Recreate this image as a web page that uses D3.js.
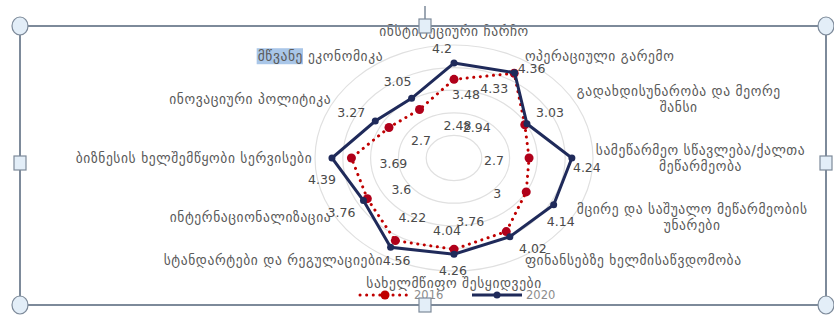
<!DOCTYPE html>
<html>
<head>
<meta charset="utf-8">
<script src="https://cdn.jsdelivr.net/npm/d3@7"></script>
<style>
  body { margin: 0; background: #fff; }
  text { font-family: "DejaVu Sans", sans-serif; }
</style>
</head>
<body>
<div id="chart"></div>
<script>
// categories, clockwise from the top
var categories = [
  ['ინსტიტუციური ჩარჩო'],
  ['ოპერაციული გარემო'],
  ['გადახდისუნარობა და მეორე', 'შანსი'],
  ['სამეწარმეო სწავლება/ქალთა', 'მეწარმეობა'],
  ['მცირე და საშუალო მეწარმეობის', 'უნარები'],
  ['ფინანსებზე ხელმისაწვდომობა'],
  ['სახელმწიფო შესყიდვები'],
  ['სტანდარტები და რეგულაციები'],
  ['ინტერნაციონალიზაცია'],
  ['ბიზნესის ხელშემწყობი სერვისები'],
  ['ინოვაციური პოლიტიკა'],
  ['მწვანე ეკონომიკა']
];
var values2016 = [3.48, 4.33, 2.94, 2.7, 3, 3.76, 4.04, 4.22, 3.6, 3.69, 2.7, 2.48];
var values2020 = [4.2, 4.36, 3.03, 4.24, 4.14, 4.02, 4.26, 4.56, 3.76, 4.39, 3.27, 3.05];
var gridLevels = [1, 2, 3, 4, 5];
var seriesNames = ['2016', '2020'];

// where the value labels sit relative to their point (layout only)
var labelShift2020 = [[-12,-15],[17,-4],[23,-11],[15,9],[7,17],[23,12],[-1,16],[6,13],[-22,12],[-10,21],[-24,-9],[-14,-17]];
var labelShift2016 = [[12,15],[-20,15],[-48,3],[-35,2],[-29,2],[-36,-10],[-7,-19],[17,-23],[34,-9],[42,5],[32,13],[38,16]];

var width = 834, height = 316;
var cx = 454, cy = 158;

var svg = d3.select('#chart').append('svg')
  .attr('width', width)
  .attr('height', height);

// the chart is stretched sideways, so x and y get their own radius scale
var rx = d3.scaleLinear().domain([0, 5]).range([0, 139]);
var ry = d3.scaleLinear().domain([0, 5]).range([0, 113]);
var angle = d3.scaleLinear().domain([0, categories.length]).range([0, 2 * Math.PI]);

var px = (i, v) => cx + rx(v) * Math.sin(angle(i));
var py = (i, v) => cy - ry(v) * Math.cos(angle(i));

//grid ellipses
svg.append('g').selectAll('ellipse')
  .data(gridLevels)
  .enter().append('ellipse')
  .attr('cx', cx).attr('cy', cy)
  .attr('rx', d => rx(d)).attr('ry', d => ry(d))
  .attr('fill', 'none')
  .attr('stroke', '#e0e0e0')
  .attr('stroke-width', 1.2);

var line = d3.line()
  .x(d => px(d.i, d.v))
  .y(d => py(d.i, d.v))
  .curve(d3.curveLinearClosed);

var pts2016 = values2016.map((v, i) => ({i: i, v: v}));
var pts2020 = values2020.map((v, i) => ({i: i, v: v}));

// 2016 dotted red
svg.append('path')
  .attr('d', line(pts2016))
  .attr('fill', 'none')
  .attr('stroke', '#c00000')
  .attr('stroke-width', 3)
  .attr('stroke-linecap', 'round')
  .attr('stroke-dasharray', '0.1 6.5');

svg.append('g').selectAll('circle')
  .data(pts2016)
  .enter().append('circle')
  .attr('cx', d => px(d.i, d.v))
  .attr('cy', d => py(d.i, d.v))
  .attr('r', 4.5)
  .attr('fill', '#b0001a');

// 2020 solid navy
svg.append('path')
  .attr('d', line(pts2020))
  .attr('fill', 'none')
  .attr('stroke', '#1f2a5a')
  .attr('stroke-width', 3);

svg.append('g').selectAll('circle')
  .data(pts2020)
  .enter().append('circle')
  .attr('cx', d => px(d.i, d.v))
  .attr('cy', d => py(d.i, d.v))
  .attr('r', 3.5)
  .attr('fill', '#1f2a5a');

// data labels
svg.append('g').selectAll('text')
  .data(pts2020)
  .enter().append('text')
  .attr('x', d => px(d.i, d.v) + labelShift2020[d.i][0])
  .attr('y', d => py(d.i, d.v) + labelShift2020[d.i][1])
  .attr('text-anchor', 'middle')
  .attr('dominant-baseline', 'central')
  .attr('font-size', 12.5)
  .attr('fill', '#4a4a4a')
  .text(d => d.v);

svg.append('g').selectAll('text')
  .data(pts2016)
  .enter().append('text')
  .attr('x', d => px(d.i, d.v) + labelShift2016[d.i][0])
  .attr('y', d => py(d.i, d.v) + labelShift2016[d.i][1])
  .attr('text-anchor', 'middle')
  .attr('dominant-baseline', 'central')
  .attr('font-size', 12.5)
  .attr('fill', '#4a4a4a')
  .text(d => d.v);

// category labels
var labelG = svg.append('g');
categories.forEach((lines, i) => {
  var a = angle(i);
  var s = Math.sin(a), c = Math.cos(a);
  var lx = cx + rx(5.1) * s;
  var ly = cy - ry(5.2) * c;
  var anchor = Math.abs(s) < 0.01 ? 'middle' : (s > 0 ? 'start' : 'end');
  if (i === 0) ly = 31;
  if (i === 6) ly = 283;
  var t = labelG.append('text')
    .attr('font-size', 13.5)
    .attr('letter-spacing', 0.6)
    .attr('fill', '#595959')
    .attr('dominant-baseline', 'central');
  var n = lines.length;
  lines.forEach((txt, k) => {
    t.append('tspan')
      .attr('x', lx)
      .attr('y', ly + (k - (n - 1) / 2) * 15.5)
      .text(txt);
  });
  if (n > 1) {
    // centre the lines inside the block
    var w = t.node().getBBox().width;
    t.selectAll('tspan').attr('x', lx + (anchor === 'start' ? w / 2 : -w / 2));
    t.attr('text-anchor', 'middle');
  } else {
    t.attr('text-anchor', anchor);
  }
  if (i === 11) {
    // the first word is selected in the source document
    var node = t.select('tspan').node();
    var bb = t.node().getBBox();
    var wWord = node.getSubStringLength(0, 6);
    labelG.insert('rect', 'text')
      .attr('x', bb.x - 1)
      .attr('y', bb.y)
      .attr('width', wWord + 1)
      .attr('height', bb.height)
      .attr('fill', '#a9c6e8');
  }
});

// legend
var legend = svg.append('g');
var legendItems = [
  {name: seriesNames[0], x: 360, color: '#c00000', dotted: true, r: 4.5},
  {name: seriesNames[1], x: 472, color: '#1f2a5a', dotted: false, r: 3.5}
];
legendItems.forEach(d => {
  legend.append('line')
    .attr('x1', d.x).attr('x2', d.x + 50)
    .attr('y1', 295).attr('y2', 295)
    .attr('stroke', d.color)
    .attr('stroke-width', 3)
    .attr('stroke-linecap', d.dotted ? 'round' : 'butt')
    .attr('stroke-dasharray', d.dotted ? '0.1 6.5' : null);
  legend.append('circle')
    .attr('cx', d.x + 25).attr('cy', 295).attr('r', d.r)
    .attr('fill', d.color);
  legend.append('text')
    .attr('x', d.x + 54).attr('y', 295)
    .attr('dominant-baseline', 'central')
    .attr('font-size', 11.5)
    .attr('fill', '#8c8c8c')
    .text(d.name);
});

// selection frame of the embedded chart
var frame = svg.append('g');
var fx0 = 20, fx1 = 826, fy0 = 26, fy1 = 305, fmx = 425, fmy = 163;
frame.append('rect')
  .attr('x', fx0).attr('y', fy0)
  .attr('width', fx1 - fx0).attr('height', fy1 - fy0)
  .attr('fill', 'none')
  .attr('stroke', '#7d8a9a')
  .attr('stroke-width', 2);
frame.append('line')
  .attr('x1', fmx).attr('x2', fmx).attr('y1', 6).attr('y2', fy0)
  .attr('stroke', '#7d8a9a').attr('stroke-width', 1.5);
[[fx0, fy0], [fx1, fy0], [fx0, fy1], [fx1, fy1]].forEach(p => {
  frame.append('ellipse')
    .attr('cx', p[0]).attr('cy', p[1]).attr('rx', 8).attr('ry', 9)
    .attr('fill', '#e3eef8').attr('stroke', '#7d8a9a').attr('stroke-width', 1.2);
});
[[fmx, fy0], [fmx, fy1], [fx0, fmy], [fx1, fmy]].forEach(p => {
  frame.append('rect')
    .attr('x', p[0] - 6).attr('y', p[1] - 7).attr('width', 12).attr('height', 14)
    .attr('fill', '#e3eef8').attr('stroke', '#7d8a9a').attr('stroke-width', 1.2);
});
</script>
</body>
</html>
